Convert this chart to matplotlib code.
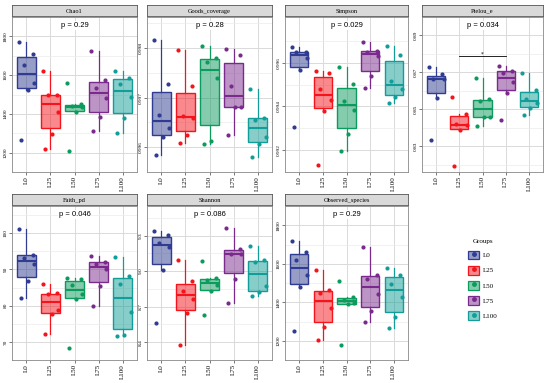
import matplotlib.pyplot as plt
import matplotlib.colors as mcolors
import numpy as np
from matplotlib.patches import Patch
from matplotlib.lines import Line2D

groups = ["L0", "L25", "L50", "L75", "L100"]
colors = ["#2F3C91", "#F5141B", "#0B9B5C", "#7A2A8C", "#119E99"]

chao1 = [[1770, 1707, 1654, 1561, 1523, 1263],
         [1620, 1495, 1495, 1408, 1298, 1221],
         [1559, 1451, 1440, 1436, 1408, 1208],
         [1726, 1574, 1531, 1483, 1382, 1311],
         [1623, 1587, 1552, 1486, 1379, 1301]]
goods = [[0.99817, 0.99727, 0.99666, 0.99638, 0.99621, 0.99585],
         [0.99797, 0.99724, 0.99664, 0.99660, 0.99625, 0.99608],
         [0.99805, 0.99780, 0.99772, 0.99740, 0.99612, 0.99606],
         [0.99798, 0.99787, 0.99723, 0.99682, 0.99682, 0.99625],
         [0.99717, 0.99660, 0.99655, 0.99621, 0.99606, 0.99581]]
simpson = [[0.99672, 0.99649, 0.99649, 0.99622, 0.99566, 0.99307],
           [0.99560, 0.99555, 0.99481, 0.99428, 0.99379, 0.99134],
           [0.99582, 0.99504, 0.99425, 0.99384, 0.99272, 0.99194],
           [0.99693, 0.99652, 0.99649, 0.99632, 0.99540, 0.99484],
           [0.99675, 0.99637, 0.99518, 0.99481, 0.99443, 0.99416]]
pielou = [[0.8732, 0.8689, 0.8662, 0.8662, 0.8564, 0.8334],
          [0.8569, 0.8476, 0.8422, 0.8414, 0.8390, 0.8193],
          [0.8670, 0.8556, 0.8545, 0.8457, 0.8457, 0.8409],
          [0.8734, 0.8710, 0.8697, 0.8646, 0.8590, 0.8441],
          [0.8697, 0.8606, 0.8558, 0.8534, 0.8508, 0.8470]]
faith = [[101.1, 94.1, 93.2, 91.4, 86.9, 82.1],
         [86.1, 83.4, 83.2, 78.9, 77.6, 72.2],
         [87.5, 87.3, 85.6, 83.2, 81.9, 68.4],
         [93.8, 92.1, 91.5, 90.0, 85.3, 80.0],
         [93.4, 88.2, 86.0, 78.2, 71.9, 71.6]]
shannon = [[9.339, 9.308, 9.234, 9.203, 9.013, 8.566],
           [9.092, 8.913, 8.829, 8.768, 8.645, 8.379],
           [9.084, 8.939, 8.926, 8.879, 8.829, 8.629],
           [9.366, 9.189, 9.142, 9.142, 8.934, 8.729],
           [9.216, 9.092, 9.076, 8.874, 8.821, 8.789]]
observed = [[1719, 1663, 1620, 1540, 1479, 1252],
            [1570, 1465, 1447, 1371, 1270, 1206],
            [1512, 1429, 1410, 1398, 1390, 1180],
            [1685, 1541, 1519, 1443, 1352, 1296],
            [1580, 1544, 1496, 1429, 1324, 1266]]

titles = ["Chao1", "Goods_coverage", "Simpson", "Pielou_e", "Faith_pd", "Shannon", "Observed_species"]
pvals = ["p = 0.29", "p = 0.28", "p = 0.029", "p = 0.034", "p = 0.046", "p = 0.086", "p = 0.29"]
yticks = [[1200, 1400, 1600, 1800], [0.996, 0.997, 0.998], [0.992, 0.994, 0.996],
          [0.83, 0.85, 0.87, 0.89], [70, 80, 90, 100], [8.4, 8.7, 9.0, 9.3],
          [1200, 1400, 1600, 1800]]
ylabels = [["1200", "1400", "1600", "1800"], ["0.996", "0.997", "0.998"],
           ["0.992", "0.994", "0.996"], ["0.83", "0.85", "0.87", "0.89"],
           ["70", "80", "90", "100"], ["8.4", "8.7", "9.0", "9.3"],
           ["1200", "1400", "1600", "1800"]]
ylims = [(1180, 1875), (0.9957, 0.99863), (0.99107, 0.99809), (0.8161, 0.8905),
         (66.9, 107.5), (8.334, 9.55), (1155, 1820)]
datasets = [chao1, goods, simpson, pielou, faith, shannon, observed]

# panel boxes in pixels: x0, x1, y0, y1 (y from top)
W, H = 550, 383
boxes = [(12, 137, 17, 172), (147, 272, 17, 172), (285, 408, 17, 172), (422, 543, 17, 172),
         (12, 137, 206, 360), (147, 272, 206, 360), (285, 408, 206, 360)]
jit = [-0.3, 0.28, -0.12, 0.33, 0.05, -0.22]

serif = "Liberation Serif"
fig = plt.figure(figsize=(5.5, 3.83), dpi=100)

for i in range(7):
    x0, x1, y0, y1 = boxes[i]
    ax = fig.add_axes([x0 / W, 1 - y1 / H, (x1 - x0) / W, (y1 - y0) / H])
    st = fig.add_axes([x0 / W, 1 - (y0 - 1) / H, (x1 - x0) / W, 11 / H])
    st.set_facecolor("#D9D9D9")
    st.set_xticks([]); st.set_yticks([])
    for s in st.spines.values():
        s.set_color("#555555"); s.set_linewidth(0.6)
    st.text(0.5, 0.45, titles[i], ha="center", va="center", fontsize=4.6, family=serif)

    data = datasets[i]
    for g in range(5):
        c = colors[g]
        bp = ax.boxplot([data[g]], positions=[g + 1], widths=0.78, showfliers=False,
                        patch_artist=True, showcaps=False, manage_ticks=False)
        bp["boxes"][0].set(facecolor=mcolors.to_rgba(c, 0.5), edgecolor=c, linewidth=1.0)
        bp["medians"][0].set(color=c, linewidth=1.5)
        for w in bp["whiskers"]:
            w.set(color=c, linewidth=0.9)
        xs = [g + 1 + jit[k % 6] for k in range(len(data[g]))]
        ax.scatter(xs, data[g], s=9, color=c, zorder=5, linewidths=0)

    ax.set_xlim(0.4, 5.6)
    ax.set_ylim(*ylims[i])
    ax.set_xticks(range(1, 6))
    ax.set_xticklabels(groups, rotation=90, fontsize=5, family=serif)
    ax.set_yticks(yticks[i])
    ax.set_yticklabels(ylabels[i], rotation=90, va="center", fontsize=3.8, family=serif)
    yt = yticks[i]
    step = yt[1] - yt[0]
    minors = [yt[0] - step / 2] + [t + step / 2 for t in yt]
    ax.set_yticks(minors, minor=True)
    ax.tick_params(axis="y", which="minor", length=0)
    ax.tick_params(length=2, width=0.5, color="#444444", pad=1)
    ax.grid(True, which="major", color="#DADADA", lw=0.7)
    ax.grid(True, which="minor", axis="y", color="#EBEBEB", lw=0.5)
    ax.set_axisbelow(True)
    for s in ax.spines.values():
        s.set_color("#888888"); s.set_linewidth(0.6)

    ax.text(0.5, 0.945, pvals[i], transform=ax.transAxes, ha="center", va="center",
            fontsize=5.5, family="Liberation Sans",
            bbox=dict(facecolor="white", edgecolor="none", pad=0.6))

    if titles[i] == "Pielou_e":
        ax.plot([2, 4], [0.8788, 0.8788], color="black", lw=0.6)
        ax.text(3, 0.8797, "*", ha="center", va="center", fontsize=4)

handles = [(Patch(facecolor=mcolors.to_rgba(c, 0.5), edgecolor=c, lw=0.9),
            Line2D([], [], marker="o", color=c, ls="", markersize=2.5)) for c in colors]
leg = fig.legend(handles, groups, title="Groups", loc="upper left",
                 bbox_to_anchor=(462 / W, 1 - 233 / H), frameon=False,
                 prop={"family": serif, "size": 5}, handlelength=1.6, handleheight=1.6,
                 labelspacing=0.9, handletextpad=0.5)
leg.get_title().set_fontfamily(serif)
leg.get_title().set_fontsize(5)

fig.savefig("out.png", dpi=100)
